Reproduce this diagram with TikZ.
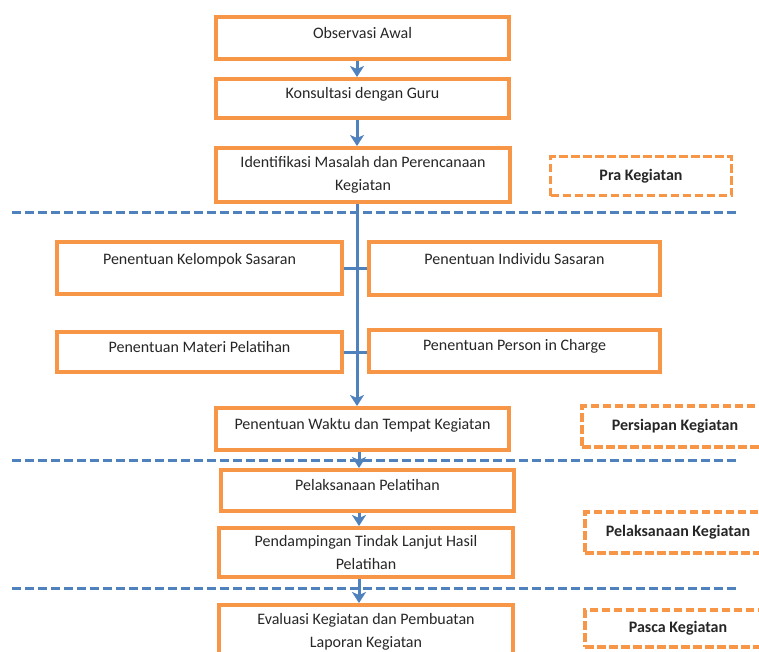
\documentclass[tikz,border=0pt]{standalone}
\usepackage{fontspec}
\setmainfont{Carlito}
\usepackage{xcolor}
\usepackage{tikz}
\usetikzlibrary{arrows.meta,positioning}
\definecolor{boxorange}{HTML}{F79646}
\definecolor{lineblue}{HTML}{4F81BD}

\begin{document}
\begin{tikzpicture}[x=1pt,y=-1pt,
  every node/.style={font=\fontsize{16}{23}\selectfont,inner sep=0pt,text=black!85},
  stage/.style={draw=boxorange,line width=4pt,minimum width=293pt,minimum height=42pt,text height=11pt,text depth=11pt,align=center},
  twoline/.style={text height=,text depth=},
  phase/.style={draw=boxorange,line width=3.5pt,dash pattern=on 8.5pt off 3.5pt,minimum width=186pt,minimum height=40pt,font=\fontsize{16}{23}\selectfont\bfseries},
  flow/.style={draw=lineblue,line width=3pt,-{Stealth[length=11pt,width=14pt,inset=3pt]}},
  tick/.style={draw=lineblue,line width=3pt},
  divider/.style={draw=lineblue,line width=3pt,dash pattern=on 9pt off 4pt}]
  \useasboundingbox (0,0) rectangle (759,651);
  \clip (0,0) rectangle (759,651);
  \coordinate (trunk) at (357,0);
  \coordinate (trunkb) at (359,0);

  \node[stage] (obs) at (362.5,38) {Observasi Awal};
  \node[stage,minimum height=39pt] (kons) at (362.5,98.5) {Konsultasi dengan Guru};
  \node[stage,twoline,minimum width=294pt,minimum height=54pt] (ident) at (363,175) {Identifikasi Masalah dan Perencanaan\\Kegiatan};
  \node[stage,minimum width=285pt,minimum height=52pt,text depth=19pt] (kel) at (199.5,268) {Penentuan Kelompok Sasaran};
  \node[stage,minimum width=291pt,minimum height=53pt,text depth=20pt] (ind) at (514.5,268.5) {Penentuan Individu Sasaran};
  \node[stage,minimum width=285pt,minimum height=40pt] (mat) at (199.5,352) {Penentuan Materi Pelatihan};
  \node[stage,minimum width=291pt,minimum height=42pt,text depth=13pt] (pic) at (514.5,351) {Penentuan Person in Charge};
  \node[stage] (wkt) at (362.5,429) {Penentuan Waktu dan Tempat Kegiatan};
  \node[stage,minimum height=41pt] (pel) at (367.5,490.5) {Pelaksanaan Pelatihan};
  \node[stage,twoline,minimum width=294pt,minimum height=49pt] (damp) at (366,552.5) {Pendampingan Tindak Lanjut Hasil\\Pelatihan};
  \node[stage,twoline,minimum width=294pt,minimum height=54pt] (eval) at (366,632) {Evaluasi Kegiatan dan Pembuatan\\Laporan Kegiatan};

  \node[phase,minimum width=181pt,minimum height=39pt] (pra) at (641,176) {Pra Kegiatan};
  \node[phase,minimum height=41pt] (siap) at (675,426.5) {Persiapan Kegiatan};
  \node[phase,minimum height=41pt] (laks) at (678,532.5) {Pelaksanaan Kegiatan};
  \node[phase,minimum height=37pt] (pasca) at (678,628.5) {Pasca Kegiatan};

  \draw[divider] (12,212) -- (736,212);
  \draw[divider] (12,460) -- (736,460);
  \draw[divider] (12,588) -- (736,588);

  \draw[flow] (obs.south -| trunk) -- (kons.north -| trunk);
  \draw[flow] (kons.south -| trunk) -- (ident.north -| trunk);
  \draw[flow] (ident.south -| trunk) -- (wkt.north -| trunk);
  \draw[tick] (kel.east) -- (kel.east -| ind.west);
  \draw[tick] (mat.east) -- (mat.east -| pic.west);
  \draw[flow] (wkt.south -| trunkb) -- (pel.north -| trunkb);
  \draw[flow] (pel.south -| trunkb) -- (damp.north -| trunkb);
  \draw[flow] (damp.south -| trunkb) -- (eval.north -| trunkb);
\end{tikzpicture}
\end{document}
